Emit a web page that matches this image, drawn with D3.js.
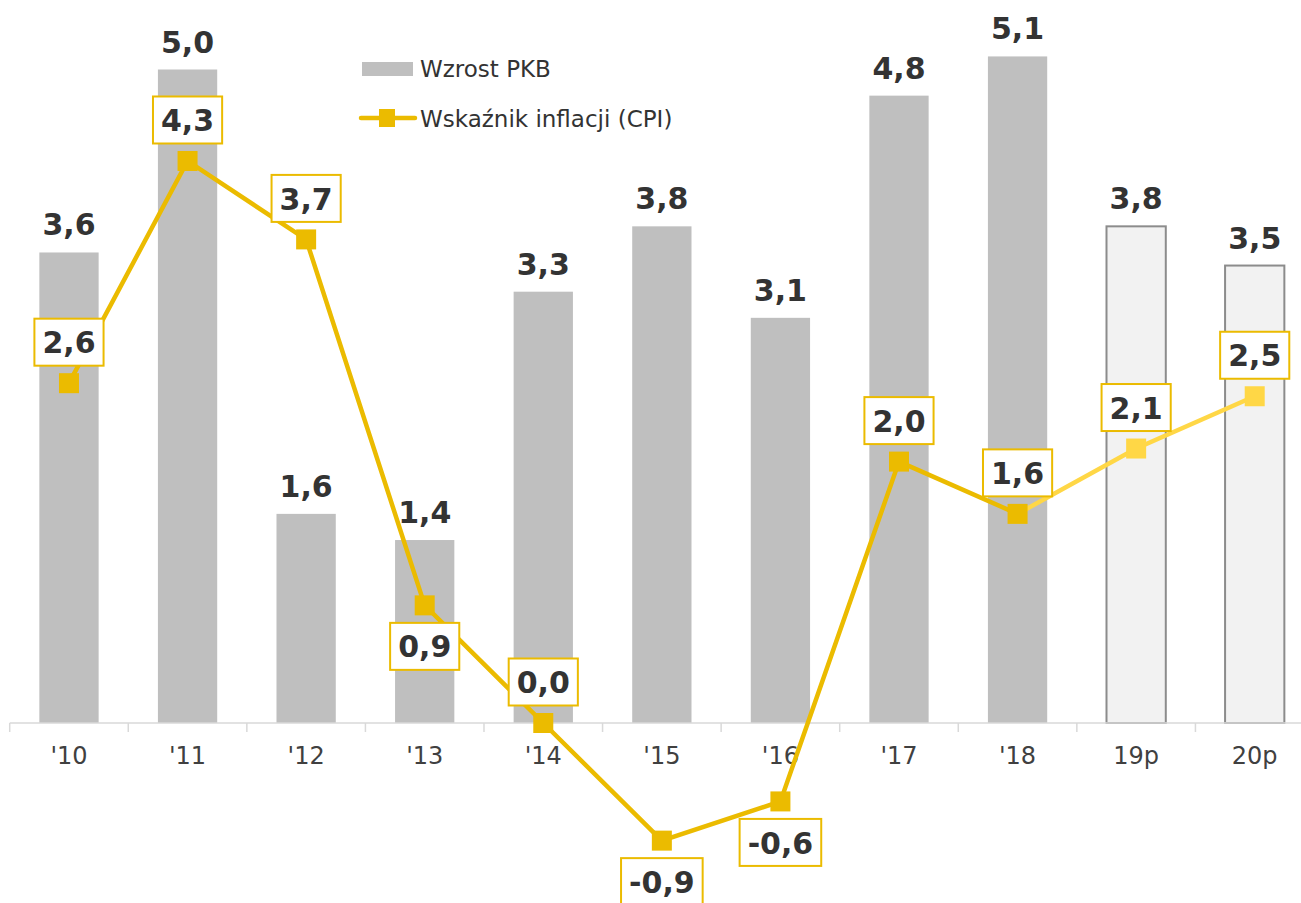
<!DOCTYPE html>
<meta charset="utf-8">
<html>
<head>
<title>PKB i CPI</title>
<script src="https://d3js.org/d3.v7.min.js"></script>
<style>
  body { margin: 0; background: #fff; }
  text { font-family: "DejaVu Sans", Verdana, sans-serif; }
</style>
</head>
<body>
<div id="chart"></div>
<script>
/* data */
var years = ["'10", "'11", "'12", "'13", "'14", "'15", "'16", "'17", "'18", "19p", "20p"];
var gdp = [3.6, 5.0, 1.6, 1.4, 3.3, 3.8, 3.1, 4.8, 5.1, 3.8, 3.5];
var cpi = [2.6, 4.3, 3.7, 0.9, 0.0, -0.9, -0.6, 2.0, 1.6, 2.1, 2.5];
var forecast = [false, false, false, false, false, false, false, false, false, true, true];
var labelBelow = [false, false, false, true, false, true, true, false, false, false, false];
var legendNames = ["Wzrost PKB", "Wskaźnik inflacji (CPI)"];

/* layout */
var W = 1301, H = 903,
    gold = "#ebbb00", lightGold = "#ffd746",
    barGray = "#bfbfbf", textCol = "#333333";

var svg = d3.select("#chart").append("svg")
    .attr("width", W).attr("height", H);

var x = d3.scaleBand().domain(years).range([9.7, 1314]).padding(0);
var y = d3.scaleLinear().domain([0, 5]).range([723, 69.5]);
var bw = x.bandwidth() * 0.5;
var cx = function(i) { return x(years[i]) + x.bandwidth() / 2; };

var rows = years.map(function(d, i) {
  return {year: d, gdp: gdp[i], cpi: cpi[i], fc: forecast[i], below: labelBelow[i], i: i};
});

/* bars */
svg.append("g").selectAll("rect")
  .data(rows).enter().append("rect")
  .attr("x", function(d) { return cx(d.i) - bw / 2; })
  .attr("y", function(d) { return y(d.gdp); })
  .attr("width", bw)
  .attr("height", function(d) { return y(0) - y(d.gdp); })
  .attr("fill", function(d) { return d.fc ? "#f2f2f2" : barGray; })
  .attr("stroke", function(d) { return d.fc ? "#8c8c8c" : "none"; })
  .attr("stroke-width", 2);

/* bar labels */
svg.append("g").selectAll("text")
  .data(rows).enter().append("text")
  .attr("x", function(d) { return cx(d.i); })
  .attr("y", function(d) { return y(d.gdp) - 17; })
  .attr("text-anchor", "middle")
  .attr("font-size", 30).attr("font-weight", "bold")
  .attr("fill", textCol)
  .text(function(d) { return d3.format(".1f")(d.gdp).replace(".", ","); });

/* x axis */
var axis = svg.append("g");
axis.append("line")
  .attr("x1", x.range()[0]).attr("x2", W)
  .attr("y1", y(0)).attr("y2", y(0))
  .attr("stroke", "#d9d9d9").attr("stroke-width", 1.5);
axis.selectAll(".tick")
  .data(years).enter().append("line")
  .attr("x1", function(d) { return x(d); }).attr("x2", function(d) { return x(d); })
  .attr("y1", y(0)).attr("y2", y(0) + 9)
  .attr("stroke", "#d9d9d9").attr("stroke-width", 1.5);
var ax = svg.append("g")
  .attr("transform", "translate(0," + y(0) + ")")
  .call(d3.axisBottom(x).tickSize(0).tickPadding(24));
ax.select(".domain").remove();
ax.selectAll("text")
  .attr("font-size", 24).attr("fill", "#404040")
  .style("font-family", "'DejaVu Sans', Verdana, sans-serif");

/* CPI line: solid part then forecast part */
var line = d3.line()
  .x(function(d) { return cx(d.i); })
  .y(function(d) { return y(d.cpi); });
var firstFc = forecast.indexOf(true);
svg.append("path")
  .datum(rows.slice(firstFc - 1))
  .attr("d", line).attr("fill", "none")
  .attr("stroke", lightGold).attr("stroke-width", 4.5);
svg.append("path")
  .datum(rows.slice(0, firstFc))
  .attr("d", line).attr("fill", "none")
  .attr("stroke", gold).attr("stroke-width", 4.5);

/* markers */
svg.append("g").selectAll("rect")
  .data(rows).enter().append("rect")
  .attr("x", function(d) { return cx(d.i) - 10; })
  .attr("y", function(d) { return y(d.cpi) - 10; })
  .attr("width", 20).attr("height", 20)
  .attr("fill", function(d) { return d.fc ? lightGold : gold; });

/* boxed CPI labels */
var lab = svg.append("g").selectAll("g")
  .data(rows).enter().append("g")
  .attr("transform", function(d) {
    return "translate(" + cx(d.i) + "," + (y(d.cpi) + (d.below ? 41 : -41)) + ")";
  });
lab.append("rect");
lab.append("text")
  .attr("text-anchor", "middle")
  .attr("dy", "0.37em")
  .attr("font-size", 30).attr("font-weight", "bold")
  .attr("fill", textCol)
  .text(function(d) { return d3.format(".1f")(d.cpi).replace(".", ",").replace("−", "-"); });
lab.each(function() {
  var g = d3.select(this);
  var tw = g.select("text").node().getComputedTextLength();
  g.select("rect")
    .attr("x", -tw / 2 - 8).attr("y", -23.5)
    .attr("width", tw + 16).attr("height", 47)
    .attr("fill", "#fff").attr("stroke", gold).attr("stroke-width", 2);
});

/* legend */
var leg = svg.append("g");
leg.append("rect")
  .attr("x", 362).attr("y", 62).attr("width", 51).attr("height", 14)
  .attr("fill", barGray);
leg.append("text")
  .attr("x", 420).attr("y", 77).attr("font-size", 23).attr("fill", textCol)
  .text(legendNames[0]);
leg.append("line")
  .attr("x1", 361).attr("x2", 415).attr("y1", 118).attr("y2", 118)
  .attr("stroke", gold).attr("stroke-width", 4.5).attr("stroke-linecap", "round");
leg.append("rect")
  .attr("x", 379).attr("y", 109).attr("width", 16).attr("height", 18)
  .attr("fill", gold);
leg.append("text")
  .attr("x", 420).attr("y", 127).attr("font-size", 23).attr("fill", textCol)
  .text(legendNames[1]);
</script>
</body>
</html>
